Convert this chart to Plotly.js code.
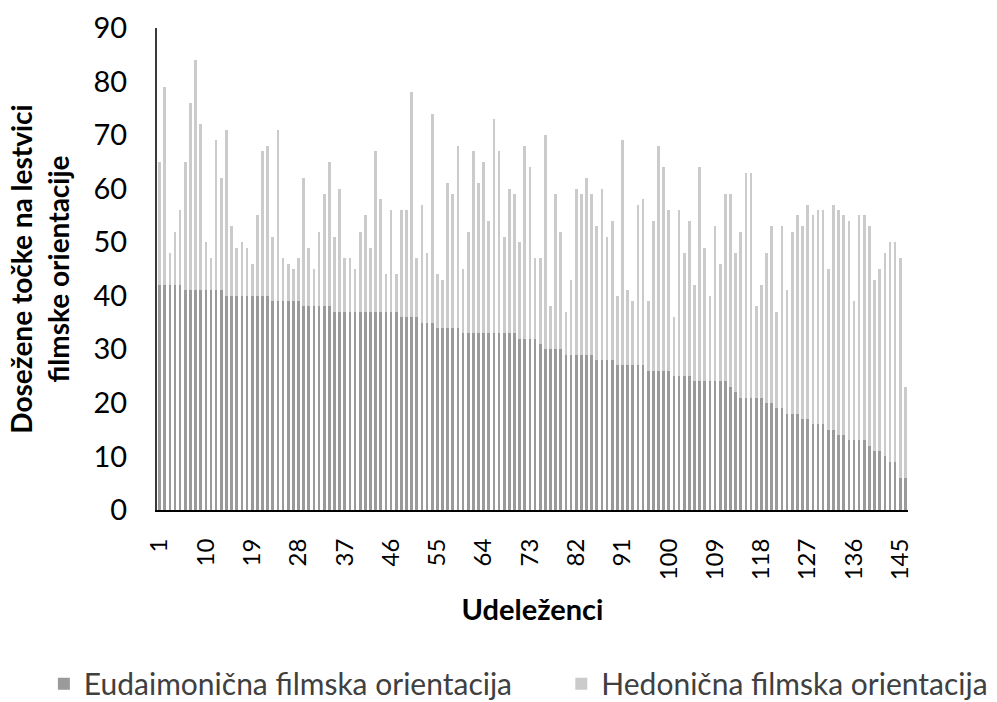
<!DOCTYPE html>
<html>
<head>
<meta charset="utf-8">
<script src="https://cdn.plot.ly/plotly-3.0.1.min.js"></script>
<style>
html,body{margin:0;padding:0;background:#fff;}
#chart{width:997px;height:702px;}
</style>
</head>
<body>
<div id="chart"></div>
<script>
// Participant count (146 participants, labelled every 9th)
var participantCount = 146;

// Eudaimonic film orientation scores (dark series)
var eudaimonic = [
42,42,42,42,42,41,41,41,41,41,41,41,41,40,40,40,40,40,40,40,
40,40,39,39,39,39,39,39,38,38,38,38,38,38,37,37,37,37,37,37,
37,37,37,37,37,37,37,36,36,36,36,35,35,35,34,34,34,34,34,33,
33,33,33,33,33,33,33,33,33,33,32,32,32,32,31,30,30,30,30,29,
29,29,29,29,29,28,28,28,28,27,27,27,27,27,27,26,26,26,26,26,
25,25,25,25,24,24,24,24,24,24,24,23,22,21,21,21,21,21,20,20,
19,19,18,18,18,17,17,16,16,16,15,15,14,14,13,13,13,13,12,11,
11,10,9,9,6,6
];

// Hedonic film orientation scores (light series)
var hedonic = [
65,79,48,52,56,65,76,84,72,50,47,69,62,71,53,49,50,49,46,55,
67,68,51,71,47,46,45,47,62,49,45,52,59,65,51,60,47,47,45,52,
55,49,67,58,44,56,44,56,56,78,47,57,48,74,44,43,61,59,68,45,
52,67,61,65,54,73,67,51,60,59,50,68,64,47,47,70,38,59,52,37,
43,60,59,62,59,53,60,51,54,40,69,41,39,57,58,39,54,68,64,56,
36,56,48,54,42,64,49,40,53,46,59,59,48,52,63,63,38,42,48,53,
37,53,41,52,55,53,57,55,56,56,45,57,56,55,54,39,55,55,53,43,
45,48,50,50,47,23
];

var tickLabels = ["1","10","19","28","37","46","55","64","73","82","91","100","109","118","127","136","145"];

var seriesNames = ["Eudaimonična filmska orientacija", "Hedonična filmska orientacija"];

var participants = [];
for (var i = 1; i <= participantCount; i++) participants.push(i);
var tickVals = tickLabels.map(Number);

var FONT = "Lato, 'Open Sans', sans-serif";

var traceHed = {
  type: 'bar',
  x: participants,
  y: hedonic,
  name: seriesNames[1],
  legend: 'legend2',
  width: 0.52,
  marker: {color: '#cbcbcb', line: {width: 0}}
};
var traceEud = {
  type: 'bar',
  x: participants,
  y: eudaimonic,
  name: seriesNames[0],
  legend: 'legend',
  width: 0.52,
  marker: {color: '#9a9a9a', line: {width: 0}}
};

var legendFont = {size: 30, family: FONT, color: '#404040'};

var layout = {
  width: 997,
  height: 702,
  margin: {l: 157, r: 89, t: 28, b: 192, pad: 0, autoexpand: false},
  paper_bgcolor: '#ffffff',
  plot_bgcolor: '#ffffff',
  barmode: 'overlay',
  bargap: 0,
  showlegend: true,
  font: {family: FONT, color: '#000000'},
  xaxis: {
    automargin: false,
    range: [0.5, participantCount + 0.5],
    tickmode: 'array',
    tickvals: tickVals,
    ticktext: tickLabels,
    tickangle: -90,
    tickfont: {size: 24, family: FONT, color: '#000'},
    ticks: '',
    ticklabelstandoff: 17,
    showgrid: false,
    zeroline: false,
    showline: true,
    linecolor: '#000000',
    linewidth: 2,
    title: {text: 'Udeleženci', font: {size: 29, family: FONT, weight: 'bold', color: '#000'}, standoff: 20}
  },
  yaxis: {
    automargin: false,
    range: [0, 90],
    tickmode: 'linear',
    tick0: 0,
    dtick: 10,
    tickfont: {size: 29, family: FONT, color: '#000'},
    ticks: '',
    ticklabelstandoff: 22,
    showgrid: false,
    zeroline: false,
    showline: true,
    linecolor: '#3a3a3a',
    linewidth: 2,
    title: {text: 'Dosežene točke na lestvici<br>filmske orientacije', font: {size: 28, family: FONT, weight: 'bold', color: '#000'}, standoff: 16}
  },
  legend: {
    orientation: 'h',
    xref: 'container',
    yref: 'container',
    x: 0.044,
    xanchor: 'left',
    y: 0.026,
    yanchor: 'middle',
    font: legendFont,
    bgcolor: 'rgba(0,0,0,0)'
  },
  legend2: {
    orientation: 'h',
    xref: 'container',
    yref: 'container',
    x: 0.563,
    xanchor: 'left',
    y: 0.026,
    yanchor: 'middle',
    font: legendFont,
    bgcolor: 'rgba(0,0,0,0)'
  }
};

Plotly.newPlot('chart', [traceHed, traceEud], layout, {displayModeBar: false, staticPlot: true});
</script>
</body>
</html>
